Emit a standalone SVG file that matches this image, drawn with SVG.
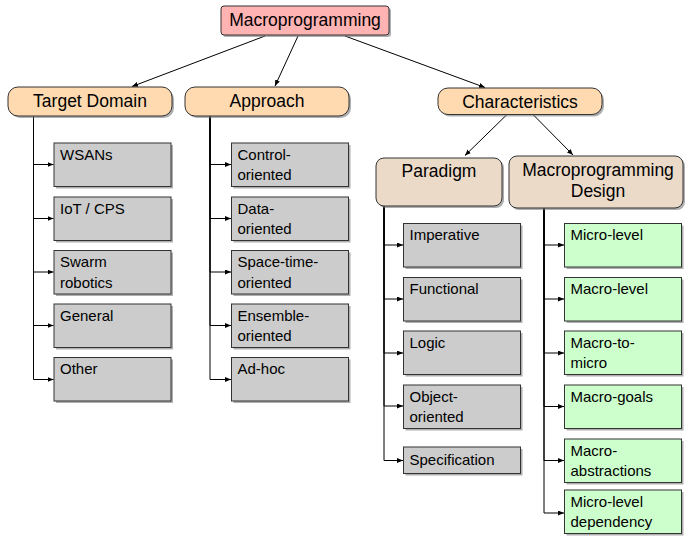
<svg xmlns="http://www.w3.org/2000/svg" width="687" height="543" viewBox="0 0 687 543">
<style>
text{font-family:"Liberation Sans",Arial,sans-serif;fill:#000}
.t{font-size:15px}
.h{font-size:17.5px;text-anchor:middle}
.box{stroke:#333;stroke-width:1}
.gray{fill:#cccccc}
.green{fill:#ccffcc}
.peach{fill:#ffdab0}
.tan{fill:#ecdac8}
.pink{fill:#ffb3b3}
.sh{fill:#7a7a7a;opacity:0.6}
.c{fill:none;stroke:#000;stroke-width:1;marker-end:url(#ah)}
</style>
<defs>
<marker id="ah" markerWidth="7" markerHeight="6" refX="6" refY="2.5" orient="auto" markerUnits="userSpaceOnUse">
<path d="M0,0 L6,2.5 L0,5 z" fill="#000"/>
</marker>
</defs>
<rect width="687" height="543" fill="#fff"/>
<g id="connectors">
<path class="c" d="M265,36 L132,86.5"/>
<path class="c" d="M298,36 L275,86"/>
<path class="c" d="M345,36 L485,87.5"/>
<path class="c" d="M507,114.5 L465,155.5"/>
<path class="c" d="M533,114.5 L573,155"/>
<path class="c" d="M33.5,116 V164.5 H53.5"/>
<path class="c" d="M33.5,116 V218.5 H53.5"/>
<path class="c" d="M33.5,116 V272 H53.5"/>
<path class="c" d="M33.5,116 V325.5 H53.5"/>
<path class="c" d="M33.5,116 V379.5 H53.5"/>
<path class="c" d="M210,116 V164.5 H231"/>
<path class="c" d="M210,116 V218.5 H231"/>
<path class="c" d="M210,116 V272 H231"/>
<path class="c" d="M210,116 V325.5 H231"/>
<path class="c" d="M210,116 V379.5 H231"/>
<path class="c" d="M384,206 V245 H403"/>
<path class="c" d="M384,206 V299 H403"/>
<path class="c" d="M384,206 V353 H403"/>
<path class="c" d="M384,206 V406 H403"/>
<path class="c" d="M384,206 V460.5 H403"/>
<path class="c" d="M544,208 V245 H564"/>
<path class="c" d="M544,208 V299 H564"/>
<path class="c" d="M544,208 V353 H564"/>
<path class="c" d="M544,208 V406.5 H564"/>
<path class="c" d="M544,208 V460.5 H564"/>
<path class="c" d="M544,208 V513 H564"/>
</g>
<g id="root">
<rect class="sh" x="223" y="8" width="168" height="29" rx="3"/>
<rect class="box pink" x="221" y="6" width="168" height="29" rx="3"/>
<text class="h" x="305" y="25.5">Macroprogramming</text>
</g>
<g id="target-domain">
<rect class="sh" x="10" y="89" width="164" height="29" rx="10"/>
<rect class="box peach" x="8" y="87" width="164" height="29" rx="10"/>
<text class="h" x="90" y="107">Target Domain</text>
</g>
<g id="approach">
<rect class="sh" x="187" y="89" width="164" height="29" rx="10"/>
<rect class="box peach" x="185" y="87" width="164" height="29" rx="10"/>
<text class="h" x="267" y="107">Approach</text>
</g>
<g id="characteristics">
<rect class="sh" x="440" y="90" width="164" height="26.5" rx="10"/>
<rect class="box peach" x="438" y="88" width="164" height="26.5" rx="10"/>
<text class="h" x="520" y="107.5">Characteristics</text>
</g>
<g id="paradigm">
<rect class="sh" x="378" y="160" width="126" height="48" rx="8"/>
<rect class="box tan" x="376" y="158" width="126" height="48" rx="8"/>
<text class="h" x="439" y="177">Paradigm</text>
</g>
<g id="macro-design">
<rect class="sh" x="511" y="158" width="174" height="52" rx="8"/>
<rect class="box tan" x="509" y="156" width="174" height="52" rx="8"/>
<text class="h" x="598" y="175.5">Macroprogramming</text>
<text class="h" x="598" y="197">Design</text>
</g>
<g id="wsans">
<rect class="sh" x="56" y="145" width="117" height="43.5"/>
<rect class="box gray" x="54" y="143" width="117" height="43.5"/>
<text class="t" x="60" y="159.5">WSANs</text>
</g>
<g id="iot-cps">
<rect class="sh" x="56" y="199" width="117" height="43.5"/>
<rect class="box gray" x="54" y="197" width="117" height="43.5"/>
<text class="t" x="60" y="213.5">IoT / CPS</text>
</g>
<g id="swarm">
<rect class="sh" x="56" y="252.5" width="117" height="43.5"/>
<rect class="box gray" x="54" y="250.5" width="117" height="43.5"/>
<text class="t" x="60" y="267">Swarm</text>
<text class="t" x="60" y="287.5">robotics</text>
</g>
<g id="general">
<rect class="sh" x="56" y="306" width="117" height="43.5"/>
<rect class="box gray" x="54" y="304" width="117" height="43.5"/>
<text class="t" x="60" y="320.5">General</text>
</g>
<g id="other">
<rect class="sh" x="56" y="359.5" width="117" height="43.5"/>
<rect class="box gray" x="54" y="357.5" width="117" height="43.5"/>
<text class="t" x="60" y="374">Other</text>
</g>
<g id="control">
<rect class="sh" x="233.5" y="145" width="117" height="43.5"/>
<rect class="box gray" x="231.5" y="143" width="117" height="43.5"/>
<text class="t" x="237.5" y="159.5">Control-</text>
<text class="t" x="237.5" y="180">oriented</text>
</g>
<g id="data">
<rect class="sh" x="233.5" y="199" width="117" height="43.5"/>
<rect class="box gray" x="231.5" y="197" width="117" height="43.5"/>
<text class="t" x="237.5" y="213.5">Data-</text>
<text class="t" x="237.5" y="234">oriented</text>
</g>
<g id="spacetime">
<rect class="sh" x="233.5" y="252.5" width="117" height="43.5"/>
<rect class="box gray" x="231.5" y="250.5" width="117" height="43.5"/>
<text class="t" x="237.5" y="267">Space-time-</text>
<text class="t" x="237.5" y="287.5">oriented</text>
</g>
<g id="ensemble">
<rect class="sh" x="233.5" y="306" width="117" height="43.5"/>
<rect class="box gray" x="231.5" y="304" width="117" height="43.5"/>
<text class="t" x="237.5" y="320.5">Ensemble-</text>
<text class="t" x="237.5" y="341">oriented</text>
</g>
<g id="adhoc">
<rect class="sh" x="233.5" y="359.5" width="117" height="43.5"/>
<rect class="box gray" x="231.5" y="357.5" width="117" height="43.5"/>
<text class="t" x="237.5" y="374">Ad-hoc</text>
</g>
<g id="imperative">
<rect class="sh" x="405.5" y="225.5" width="117" height="43.5"/>
<rect class="box gray" x="403.5" y="223.5" width="117" height="43.5"/>
<text class="t" x="409.5" y="240">Imperative</text>
</g>
<g id="functional">
<rect class="sh" x="405.5" y="279.5" width="117" height="43.5"/>
<rect class="box gray" x="403.5" y="277.5" width="117" height="43.5"/>
<text class="t" x="409.5" y="294">Functional</text>
</g>
<g id="logic">
<rect class="sh" x="405.5" y="333" width="117" height="43.5"/>
<rect class="box gray" x="403.5" y="331" width="117" height="43.5"/>
<text class="t" x="409.5" y="347.5">Logic</text>
</g>
<g id="object">
<rect class="sh" x="405.5" y="387" width="117" height="43.5"/>
<rect class="box gray" x="403.5" y="385" width="117" height="43.5"/>
<text class="t" x="409.5" y="401.5">Object-</text>
<text class="t" x="409.5" y="422">oriented</text>
</g>
<g id="specification">
<rect class="sh" x="405.5" y="449" width="117" height="26.5"/>
<rect class="box gray" x="403.5" y="447" width="117" height="26.5"/>
<text class="t" x="409.5" y="465">Specification</text>
</g>
<g id="micro-level">
<rect class="sh" x="566.5" y="225.5" width="117" height="43.5"/>
<rect class="box green" x="564.5" y="223.5" width="117" height="43.5"/>
<text class="t" x="570.5" y="240">Micro-level</text>
</g>
<g id="macro-level">
<rect class="sh" x="566.5" y="279.5" width="117" height="43.5"/>
<rect class="box green" x="564.5" y="277.5" width="117" height="43.5"/>
<text class="t" x="570.5" y="294">Macro-level</text>
</g>
<g id="macro-to-micro">
<rect class="sh" x="566.5" y="333" width="117" height="43.5"/>
<rect class="box green" x="564.5" y="331" width="117" height="43.5"/>
<text class="t" x="570.5" y="347.5">Macro-to-</text>
<text class="t" x="570.5" y="368">micro</text>
</g>
<g id="macro-goals">
<rect class="sh" x="566.5" y="387" width="117" height="43.5"/>
<rect class="box green" x="564.5" y="385" width="117" height="43.5"/>
<text class="t" x="570.5" y="401.5">Macro-goals</text>
</g>
<g id="macro-abstractions">
<rect class="sh" x="566.5" y="441" width="117" height="43.5"/>
<rect class="box green" x="564.5" y="439" width="117" height="43.5"/>
<text class="t" x="570.5" y="455.5">Macro-</text>
<text class="t" x="570.5" y="476">abstractions</text>
</g>
<g id="micro-level-dependency">
<rect class="sh" x="566.5" y="492" width="117" height="43.5"/>
<rect class="box green" x="564.5" y="490" width="117" height="43.5"/>
<text class="t" x="570.5" y="506.5">Micro-level</text>
<text class="t" x="570.5" y="527">dependency</text>
</g>
</svg>
